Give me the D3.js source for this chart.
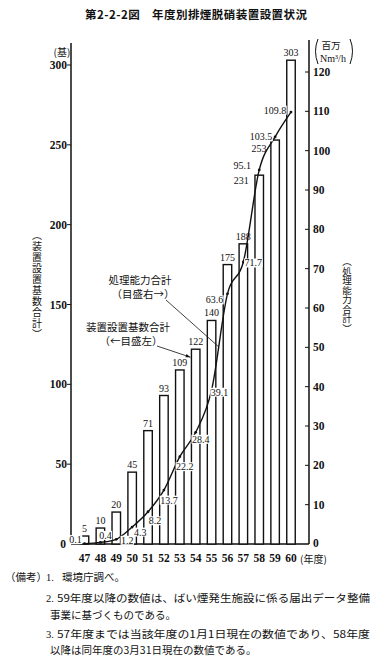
<!DOCTYPE html>
<html><head><meta charset="utf-8">
<script src="https://cdn.jsdelivr.net/npm/d3@7"></script>
<style>
html,body{margin:0;padding:0;background:#fff;}
svg{display:block;}
.num{font-family:"Liberation Serif","DejaVu Serif",serif;fill:#111;}
.jp{font-family:"Noto Sans CJK JP","Noto Sans",sans-serif;fill:#111;}
.vt{writing-mode:vertical-rl;}
</style>
</head><body>
<svg id="c" width="380" height="658"></svg>
<script>
// ---- data ----
const years = ["47","48","49","50","51","52","53","54","55","56","57","58","59","60"];
const units = [5,10,20,45,71,93,109,122,140,175,188,231,253,303];
const capacity = [0.1,0.4,1.2,4.3,8.2,13.7,22.2,28.4,39.1,63.6,71.7,95.1,103.5,109.8];
const capacityText = ["0.1","0.4","1.2","4.3","8.2","13.7","22.2","28.4","39.1","63.6","71.7","95.1","103.5","109.8"];
const leftTicks = [0,50,100,150,200,250,300];
const rightTicks = [0,10,20,30,40,50,60,70,80,90,100,110,120];
const title = "第2-2-2図　年度別排煙脱硝装置設置状況";
const notes = [
  "環境庁調べ。",
  "59年度以降の数値は、ばい煙発生施設に係る届出データ整備",
  "事業に基づくものである。",
  "57年度までは当該年度の1月1日現在の数値であり、58年度",
  "以降は同年度の3月31日現在の数値である。"
];

// ---- layout (label offsets) ----
const capLabelOff = [[-9,-4],[5,-7],[11,1],[8,5],[7,9],[5,10],[5,10],[5,7],[8,2],[-13,6],[10,1],[-17,-4],[-14,0],[-16,-2]];
const barLabelOff = {"58":[-18,5],"59":[-16,8]};

const svg = d3.select("#c");
const x = d3.scalePoint().domain(years).range([84.5,291]);
const yL = d3.scaleLinear().domain([0,300]).range([544,65]);
const yR = d3.scaleLinear().domain([0,120]).range([544,72]);
const bw = 8.5;
const axL = 71, axR = 309;

// title
svg.append("text").attr("class","jp").attr("x",196).attr("y",19)
  .attr("text-anchor","middle").attr("font-size",11.5).attr("font-weight","bold")
  .attr("textLength",222).attr("lengthAdjust","spacing").text(title);

// baseline
svg.append("line").attr("x1",axL).attr("x2",axR).attr("y1",yL(0)).attr("y2",yL(0))
  .attr("stroke","#111").attr("stroke-width",1.3);

// bars
svg.append("g").selectAll("rect").data(years).join("rect")
  .attr("x",d=>x(d)-bw/2).attr("width",bw)
  .attr("y",(d,i)=>yL(units[i])).attr("height",(d,i)=>yL(0)-yL(units[i]))
  .attr("fill","#fff").attr("stroke","#111").attr("stroke-width",1.4);

// bar labels
svg.append("g").selectAll("text").data(years).join("text")
  .attr("class","num").attr("font-size",10).attr("text-anchor","middle")
  .attr("x",(d)=>x(d)+(barLabelOff[d]?barLabelOff[d][0]:0))
  .attr("y",(d,i)=>yL(units[i])+(barLabelOff[d]?barLabelOff[d][1]+3.5:-4))
  .text((d,i)=>units[i]);

// left axis
const gl = svg.append("g").attr("transform",`translate(${axL},0)`);
gl.append("line").attr("y1",43).attr("y2",yL(0)).attr("stroke","#111").attr("stroke-width",1.5);
gl.selectAll("line.t").data(leftTicks.filter(d=>d>0)).join("line").attr("class","t")
  .attr("x1",-4).attr("x2",0).attr("y1",d=>yL(d)).attr("y2",d=>yL(d)).attr("stroke","#111");
gl.selectAll("text").data(leftTicks).join("text").attr("class","num")
  .attr("font-size",11.5).attr("font-weight","bold").attr("text-anchor","end")
  .attr("x",d=>d===0?-5:-4).attr("y",d=>yL(d)+4).text(d=>d);
svg.append("text").attr("class","jp").attr("x",62).attr("y",56).attr("text-anchor","middle")
  .attr("font-size",10).text("(基)");

// right axis
const gr = svg.append("g").attr("transform",`translate(${axR},0)`);
gr.append("line").attr("y1",40).attr("y2",yL(0)).attr("stroke","#111").attr("stroke-width",1.5);
gr.selectAll("line.t").data(rightTicks.filter(d=>d>0)).join("line").attr("class","t")
  .attr("x1",-4).attr("x2",0).attr("y1",d=>yR(d)).attr("y2",d=>yR(d)).attr("stroke","#111");
gr.selectAll("text").data(rightTicks).join("text").attr("class","num")
  .attr("font-size",11.5).attr("font-weight","bold").attr("text-anchor","start")
  .attr("x",4).attr("y",d=>d===0?yR(d)+3:yR(d)+4).text(d=>d);
// right unit
const ru = svg.append("g");
ru.append("text").attr("class","jp").attr("x",331).attr("y",49).attr("text-anchor","middle")
  .attr("font-size",9.5).text("百万");
ru.append("text").attr("class","num").attr("x",333).attr("y",62).attr("text-anchor","middle")
  .attr("font-size",10).text("Nm³/h");
ru.append("path").attr("d","M318,39 Q313,51 318,64").attr("fill","none").attr("stroke","#111").attr("stroke-width",1);
ru.append("path").attr("d","M350,39 Q355,51 350,64").attr("fill","none").attr("stroke","#111").attr("stroke-width",1);

// x labels
svg.append("g").selectAll("text").data(years).join("text").attr("class","num")
  .attr("font-size",11.5).attr("font-weight","bold").attr("text-anchor","middle")
  .attr("x",d=>x(d)).attr("y",562).text(d=>d);
svg.append("text").attr("class","jp").attr("x",300).attr("y",563).attr("font-size",10).text("(年度)");

// vertical labels (single text each, vertical writing mode)
svg.append("text").attr("class","jp vt").attr("x",37).attr("y",230)
  .attr("font-size",10).attr("letter-spacing",1).text("（装置設置基数合計）");
svg.append("text").attr("class","jp vt").attr("x",347).attr("y",257)
  .attr("font-size",9.5).attr("letter-spacing",0).text("（処理能力合計）");

// capacity line
const pts = years.map((d,i)=>[x(d), yR(capacity[i])]);
svg.append("path").attr("d", d3.line().curve(d3.curveMonotoneX)(pts))
  .attr("fill","none").attr("stroke","#111").attr("stroke-width",1.4);
svg.append("g").selectAll("circle").data(pts).join("circle")
  .attr("cx",d=>d[0]).attr("cy",d=>d[1]).attr("r",1.4).attr("fill","#111");

// capacity labels with white backgrounds
const cl = svg.append("g");
pts.forEach((p,i)=>{
  const t = cl.append("text").attr("class","num").attr("font-size",10).attr("text-anchor","middle")
    .attr("x",p[0]+capLabelOff[i][0]).attr("y",p[1]+capLabelOff[i][1]+3.5).text(capacityText[i]);
  const bb = t.node().getBBox();
  cl.insert("rect","text").attr("x",bb.x-0.5).attr("y",bb.y+1).attr("width",bb.width+1).attr("height",bb.height-2).attr("fill","#fff");
});
cl.selectAll("text").raise();

// annotations
const an = svg.append("g");
an.append("text").attr("class","jp").attr("x",140).attr("y",284).attr("text-anchor","middle")
  .attr("font-size",10.5).text("処理能力合計");
an.append("text").attr("class","jp").attr("x",143).attr("y",298).attr("text-anchor","middle")
  .attr("font-size",10.5).text("（目盛右→）");
an.append("text").attr("class","jp").attr("x",128).attr("y",331).attr("text-anchor","middle")
  .attr("font-size",10.5).text("装置設置基数合計");
an.append("text").attr("class","jp").attr("x",131).attr("y",345).attr("text-anchor","middle")
  .attr("font-size",10.5).text("（←目盛左）");
// leader to line (between 55 and 56)
const t1 = 0.45;
const lx = pts[8][0]+(pts[9][0]-pts[8][0])*t1, ly = pts[8][1]+(pts[9][1]-pts[8][1])*t1;
an.append("line").attr("x1",166).attr("y1",300).attr("x2",lx).attr("y2",ly).attr("stroke","#111").attr("stroke-width",0.8);
// arrow to bar 54
const ax2 = x("54")-bw/2-1, ay2 = yL(122)+8;
an.append("line").attr("x1",157).attr("y1",346).attr("x2",ax2).attr("y2",ay2).attr("stroke","#111").attr("stroke-width",0.8);
const ang = Math.atan2(ay2-346, ax2-157);
const ah = 5;
an.append("path").attr("d",`M${ax2},${ay2} L${ax2-ah*Math.cos(ang-0.35)},${ay2-ah*Math.sin(ang-0.35)} L${ax2-ah*Math.cos(ang+0.35)},${ay2-ah*Math.sin(ang+0.35)} Z`).attr("fill","#111");

// notes
const nt = svg.append("g").attr("class","jp").attr("font-size",10.5);
nt.append("text").attr("class","jp").attr("x",5).attr("y",581).text("（備考）");
nt.append("text").attr("class","num").attr("x",46).attr("y",581).text("1.");
nt.append("text").attr("class","jp").attr("x",62).attr("y",581).text(notes[0]);
nt.append("text").attr("class","num").attr("x",46).attr("y",602).text("2.");
nt.append("text").attr("class","jp").attr("x",57).attr("y",602).attr("textLength",313).attr("lengthAdjust","spacingAndGlyphs").text(notes[1]);
nt.append("text").attr("class","jp").attr("x",50).attr("y",619).text(notes[2]);
nt.append("text").attr("class","num").attr("x",46).attr("y",638).text("3.");
nt.append("text").attr("class","jp").attr("x",57).attr("y",638).attr("textLength",313).attr("lengthAdjust","spacingAndGlyphs").text(notes[3]);
nt.append("text").attr("class","jp").attr("x",50).attr("y",654).text(notes[4]);
</script>
</body></html>
